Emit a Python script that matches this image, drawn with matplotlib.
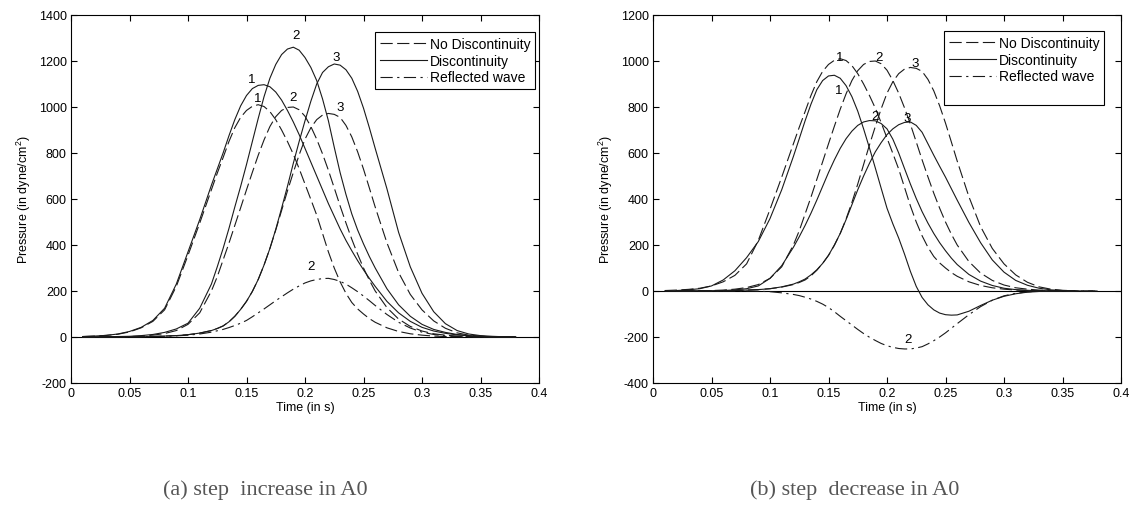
import matplotlib
matplotlib.use("Agg")
import matplotlib.pyplot as plt
from matplotlib.lines import Line2D

plt.rcParams['font.family'] = ['Liberation Sans', 'DejaVu Sans']
plt.rcParams['mathtext.default'] = 'regular'
plt.rcParams['axes.unicode_minus'] = False

# sample times (s), finer around the peaks
t_a = [0.01, 0.02, 0.03, 0.04, 0.05, 0.06, 0.07, 0.08, 0.09, 0.10, 0.11, 0.12,
       0.125, 0.13, 0.135, 0.14, 0.145, 0.15, 0.155, 0.16, 0.165, 0.17, 0.175,
       0.18, 0.185, 0.19, 0.195, 0.20, 0.205, 0.21, 0.215, 0.22, 0.225, 0.23,
       0.235, 0.24, 0.245, 0.25, 0.255, 0.26,
       0.27, 0.28, 0.29, 0.30, 0.31, 0.32, 0.33, 0.34, 0.35, 0.36, 0.37, 0.38]
t_b = [0.02, 0.03, 0.04, 0.05, 0.06, 0.07, 0.08, 0.09, 0.10, 0.11, 0.12,
       0.125, 0.13, 0.135, 0.14, 0.145, 0.15, 0.155, 0.16, 0.165, 0.17, 0.175,
       0.18, 0.185, 0.19, 0.195, 0.20, 0.205, 0.21, 0.215, 0.22, 0.225, 0.23,
       0.235, 0.24, 0.245, 0.25, 0.255, 0.26,
       0.27, 0.28, 0.29, 0.30, 0.31, 0.32, 0.33, 0.34, 0.35, 0.36]

# No discontinuity (same in both panels), on t_a
nd1 = [2, 4, 7, 12, 22, 40, 68, 118, 220, 355, 495, 640,
       712, 780, 850, 910, 955, 985, 1003, 1010, 1002, 980, 945, 900, 850, 795,
       732, 665, 598, 530, 450, 370, 300, 240, 190, 150, 122, 100, 80, 64,
       40, 24, 14, 8, 4, 2, 1, 0, 0, 0, 0, 0]
nd2 = [0, 0, 1, 1, 2, 4, 8, 15, 28, 55, 105, 200,
       262, 335, 408, 485, 562, 640, 716, 790, 857, 915, 958, 985, 998, 1000,
       988, 960, 915, 860, 796, 725, 648, 570, 496, 425, 360, 300, 247, 200,
       128, 78, 46, 26, 14, 8, 4, 2, 1, 0, 0, 0]
nd3 = [0, 0, 0, 0, 1, 1, 2, 4, 6, 10, 17, 28,
       37, 48, 66, 90, 120, 155, 198, 250, 313, 385, 465, 550, 635, 715,
       792, 860, 910, 945, 965, 972, 968, 955, 920, 870, 805, 730, 648, 565,
       410, 280, 185, 118, 70, 38, 18, 8, 3, 1, 0, 0]

# (a) step increase: discontinuity + reflected, on t_a
inc1 = [2, 4, 7, 13, 24, 42, 72, 125, 230, 370, 510, 660,
        730, 800, 875, 945, 1005, 1050, 1080, 1094, 1097, 1088, 1065, 1030, 985, 935,
        880, 820, 760, 700, 640, 580, 525, 470, 420, 375, 332, 292, 255, 220,
        155, 105, 68, 42, 26, 16, 9, 5, 3, 1, 0, 0]
inc2 = [0, 1, 1, 2, 3, 6, 11, 20, 35, 60, 125, 230,
        305, 385, 472, 565, 655, 750, 850, 950, 1045, 1125, 1185, 1228, 1252, 1260,
        1247, 1215, 1172, 1115, 1035, 940, 825, 715, 620, 535, 465, 405, 350, 300,
        210, 140, 90, 55, 33, 20, 11, 6, 3, 1, 0, 0]
inc3 = [0, 0, 0, 0, 1, 1, 2, 4, 6, 10, 17, 28,
        37, 48, 66, 90, 120, 155, 198, 250, 313, 385, 468, 560, 655, 755,
        850, 940, 1025, 1100, 1150, 1175, 1187, 1182, 1162, 1125, 1068, 995, 910, 820,
        645, 455, 305, 190, 110, 58, 28, 13, 6, 3, 1, 0]
refl_a = [0, 0, 0, 0, 0, 1, 2, 3, 5, 8, 13, 21,
          27, 33, 41, 50, 60, 72, 88, 105, 122, 140, 158, 175, 192, 208,
          222, 235, 244, 250, 254, 255, 250, 242, 230, 214, 197, 178, 158, 137,
          98, 64, 39, 21, 11, 5, 2, 1, 0, 0, 0, 0]

# (b) step decrease: discontinuity + reflected, on t_b
dec1 = [2, 5, 10, 22, 48, 88, 145, 215, 315, 440, 585,
        662, 740, 812, 875, 915, 935, 938, 925, 893, 845, 782, 705, 622, 535,
        447, 360, 292, 230, 160, 85, 20, -28, -60, -82, -96, -103, -105, -104,
        -88, -63, -40, -23, -12, -5, -2, 0, 0, 0]
dec2 = [0, 0, 1, 1, 2, 5, 10, 22, 55, 110, 190,
        236, 285, 338, 395, 455, 515, 570, 620, 662, 695, 720, 735, 741, 740,
        728, 705, 660, 600, 532, 465, 402, 345, 295, 250, 210, 175, 143, 115,
        72, 43, 24, 12, 6, 3, 1, 0, 0, 0]
dec3 = [0, 0, 0, 0, 1, 2, 4, 6, 10, 18, 30,
        40, 52, 70, 92, 120, 155, 200, 250, 310, 375, 440, 500, 555, 605,
        645, 680, 705, 723, 733, 735, 720, 690, 640, 590, 542, 495, 445, 395,
        298, 210, 135, 82, 46, 25, 12, 5, 2, 0]
refl_b = [0, 0, 0, 0, 0, 0, 0, -1, -3, -8, -15,
          -20, -27, -35, -45, -57, -72, -90, -110, -129, -148, -167, -185, -201, -215,
          -228, -238, -245, -250, -252, -252, -248, -242, -230, -216, -200, -182, -162, -142,
          -103, -68, -40, -21, -10, -4, -1, 0, 0, 0]

# curve number labels: (text, t, p)
labels_a = [("1", 0.1547, 1121), ("1", 0.160, 1039), ("2", 0.1923, 1313),
            ("2", 0.190, 1043), ("3", 0.2268, 1219), ("3", 0.230, 1002),
            ("2", 0.205, 309)]
labels_b = [("1", 0.160, 1019), ("2", 0.193, 1016), ("3", 0.224, 993),
            ("1", 0.159, 875), ("2", 0.190, 759), ("3", 0.2176, 752),
            ("2", 0.218, -209)]

captions = ["(a) step  increase in A0", "(b) step  decrease in A0"]

lc = '#1a1a1a'
dash = (0, (11, 4))
dashdot = (0, (11, 4, 2, 4))

fig = plt.figure(figsize=(11.4, 5.1), dpi=100)
ax1 = fig.add_axes([71 / 1140, 1 - 384 / 510, 468 / 1140, 368 / 510])
ax2 = fig.add_axes([653 / 1140, 1 - 384 / 510, 468 / 1140, 368 / 510])


def panel(ax, t, d1, d2, d3, refl, labs, ylim, yticks, legend_anchor, extra_row):
    ax.axhline(0, color='k', lw=0.8, zorder=1)
    h1, = ax.plot(t_a, nd1, color=lc, lw=0.8, ls=dash)
    ax.plot(t_a, nd2, color=lc, lw=0.8, ls=dash)
    ax.plot(t_a, nd3, color=lc, lw=0.8, ls=dash)
    h2, = ax.plot(t, d1, color=lc, lw=0.8)
    ax.plot(t, d2, color=lc, lw=0.8)
    ax.plot(t, d3, color=lc, lw=0.8)
    h3, = ax.plot(t, refl, color=lc, lw=0.8, ls=dashdot)
    for s, x, y in labs:
        ax.text(x, y, s, fontsize=9.5, ha='center', va='center')
    ax.set_xlim(0, 0.4)
    ax.set_ylim(*ylim)
    ax.set_xticks([0, 0.05, 0.1, 0.15, 0.2, 0.25, 0.3, 0.35, 0.4])
    ax.set_xticklabels(['0', '0.05', '0.1', '0.15', '0.2', '0.25', '0.3', '0.35', '0.4'])
    ax.set_yticks(yticks)
    ax.tick_params(direction='in', length=4, width=0.8, top=True, right=True,
                   labelsize=9, pad=3)
    for sp in ax.spines.values():
        sp.set_linewidth(0.8)
    ax.set_xlabel('Time (in s)', fontsize=9, labelpad=1)
    ax.set_ylabel('Pressure (in dyne/cm$^{2}$)', fontsize=9, labelpad=4)
    handles = [h1, h2, h3]
    names = ['No Discontinuity', 'Discontinuity', 'Reflected wave']
    if extra_row:
        handles.append(Line2D([], [], lw=0))
        names.append(' ')
    leg = ax.legend(handles, names, loc='upper right', bbox_to_anchor=legend_anchor,
                    fontsize=10, frameon=True, fancybox=False, framealpha=1,
                    edgecolor='k', handlelength=3.4, handletextpad=0.2,
                    labelspacing=0.2, borderpad=0.35, borderaxespad=0)
    leg.get_frame().set_linewidth(0.8)


panel(ax1, t_a, inc1, inc2, inc3, refl_a, labels_a, (-200, 1400),
      [-200, 0, 200, 400, 600, 800, 1000, 1200, 1400], (1 - 4 / 468, 1 - 17 / 368), False)
panel(ax2, t_b, dec1, dec2, dec3, refl_b, labels_b, (-400, 1200),
      [-400, -200, 0, 200, 400, 600, 800, 1000, 1200], (1 - 17 / 468, 1 - 16 / 368), True)

fig.text(265 / 1140, 1 - 490 / 510, captions[0], ha='center', va='center',
         family=['Liberation Serif', 'DejaVu Serif'], fontsize=16, color='#555555')
fig.text(855 / 1140, 1 - 490 / 510, captions[1], ha='center', va='center',
         family=['Liberation Serif', 'DejaVu Serif'], fontsize=16, color='#555555')

fig.savefig('out.png', dpi=100)
